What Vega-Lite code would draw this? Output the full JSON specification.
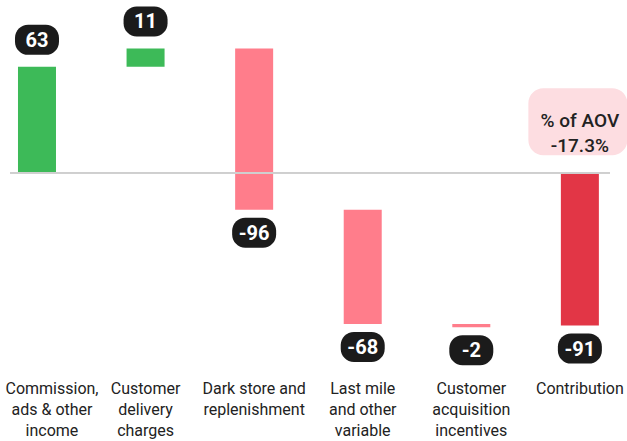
{
  "$schema": "https://vega.github.io/schema/vega-lite/v6.json",
  "width": 600,
  "height": 370,
  "autosize": {"type": "none"},
  "padding": {"left": 10, "top": 0, "right": 17, "bottom": 71},
  "background": "white",
  "config": {"view": {"stroke": null}, "font": "Roboto"},
  "data": {
    "values": [
      {"category": "Commission,\nads & other\nincome", "start": 0, "end": 63, "label": "63", "kind": "pos"},
      {"category": "Customer\ndelivery\ncharges", "start": 63, "end": 74, "label": "11", "kind": "pos"},
      {"category": "Dark store and\nreplenishment", "start": 74, "end": -22, "label": "-96", "kind": "neg"},
      {"category": "Last mile\nand other\nvariable", "start": -22, "end": -90, "label": "-68", "kind": "neg"},
      {"category": "Customer\nacquisition\nincentives", "start": -90, "end": -92, "label": "-2", "kind": "neg"},
      {"category": "Contribution", "start": 0, "end": -91, "label": "-91", "kind": "total"}
    ]
  },
  "encoding": {
    "x": {
      "field": "category",
      "type": "nominal",
      "sort": null,
      "scale": {"paddingInner": 0.65, "paddingOuter": 0.088, "align": 0.418},
      "axis": {
        "title": null,
        "domain": false,
        "ticks": false,
        "tickSize": 0,
        "labelAngle": 0,
        "labelPadding": 10,
        "labelBaseline": "top",
        "labelFontSize": 16,
        "labelColor": "#222222",
        "labelLineHeight": 21,
        "labelLimit": 200,
        "labelOffset": {"condition": {"test": "datum.index === 0", "value": 15}, "value": 0},
        "labelExpr": "split(datum.label, '\\n')"
      }
    }
  },
  "layer": [
    {
      "mark": {"type": "bar"},
      "encoding": {
        "y": {"field": "start", "type": "quantitative", "scale": {"domain": [-117.44, 102.8], "nice": false, "zero": false}, "axis": null},
        "y2": {"field": "end"},
        "color": {"field": "kind", "type": "nominal", "scale": {"domain": ["pos", "neg", "total"], "range": ["#3dba58", "#ff7d8b", "#e23646"]}, "legend": null}
      }
    },
    {
      "mark": {"type": "rule", "color": "#cfcfcf", "strokeWidth": 1.5},
      "encoding": {"y": {"datum": 0, "type": "quantitative"}, "x": null}
    },
    {
      "transform": [{"filter": "datum.kind === 'pos'"}],
      "mark": {"type": "point", "filled": true, "shape": "M -0.4,-0.682 L 0.4,-0.682 A 0.6,0.6 0 0 1 1,-0.082 L 1,0.082 A 0.6,0.6 0 0 1 0.4,0.682 L -0.4,0.682 A 0.6,0.6 0 0 1 -1,0.082 L -1,-0.082 A 0.6,0.6 0 0 1 -0.4,-0.682 Z", "size": 1936, "color": "#1b1b1b", "opacity": 1, "strokeWidth": 0, "yOffset": -27},
      "encoding": {"y": {"field": "end", "type": "quantitative"}}
    },
    {
      "transform": [{"filter": "datum.kind === 'pos'"}],
      "mark": {"type": "text", "color": "white", "fontSize": 20, "fontWeight": "bold", "baseline": "middle", "align": "center", "dy": -26},
      "encoding": {"y": {"field": "end", "type": "quantitative"}, "text": {"field": "label"}}
    },
    {
      "transform": [{"filter": "datum.kind !== 'pos'"}],
      "mark": {"type": "point", "filled": true, "shape": "M -0.4,-0.682 L 0.4,-0.682 A 0.6,0.6 0 0 1 1,-0.082 L 1,0.082 A 0.6,0.6 0 0 1 0.4,0.682 L -0.4,0.682 A 0.6,0.6 0 0 1 -1,0.082 L -1,-0.082 A 0.6,0.6 0 0 1 -0.4,-0.682 Z", "size": 1936, "color": "#1b1b1b", "opacity": 1, "strokeWidth": 0, "yOffset": 23},
      "encoding": {"y": {"field": "end", "type": "quantitative"}}
    },
    {
      "transform": [{"filter": "datum.kind !== 'pos'"}],
      "mark": {"type": "text", "color": "white", "fontSize": 20, "fontWeight": "bold", "baseline": "middle", "align": "center", "dy": 24},
      "encoding": {"y": {"field": "end", "type": "quantitative"}, "text": {"field": "label"}}
    },
    {
      "transform": [{"filter": "datum.kind === 'total'"}],
      "mark": {"type": "point", "filled": true, "shape": "M -0.697,-0.677 L 0.697,-0.677 A 0.303,0.303 0 0 1 1,-0.374 L 1,0.374 A 0.303,0.303 0 0 1 0.697,0.677 L -0.697,0.677 A 0.303,0.303 0 0 1 -1,0.374 L -1,-0.374 A 0.303,0.303 0 0 1 -0.697,-0.677 Z", "size": 9801, "color": "#fddde1", "opacity": 1, "strokeWidth": 0, "yOffset": -51, "xOffset": -2},
      "encoding": {"y": {"datum": 0, "type": "quantitative"}}
    },
    {
      "transform": [{"filter": "datum.kind === 'total'"}],
      "mark": {"type": "text", "color": "#222222", "fontSize": 19, "fontWeight": 500, "baseline": "middle", "align": "center", "lineHeight": 25, "dy": -52},
      "encoding": {"y": {"datum": 0, "type": "quantitative"}, "text": {"value": ["% of AOV", "-17.3%"]}}
    }
  ]
}
